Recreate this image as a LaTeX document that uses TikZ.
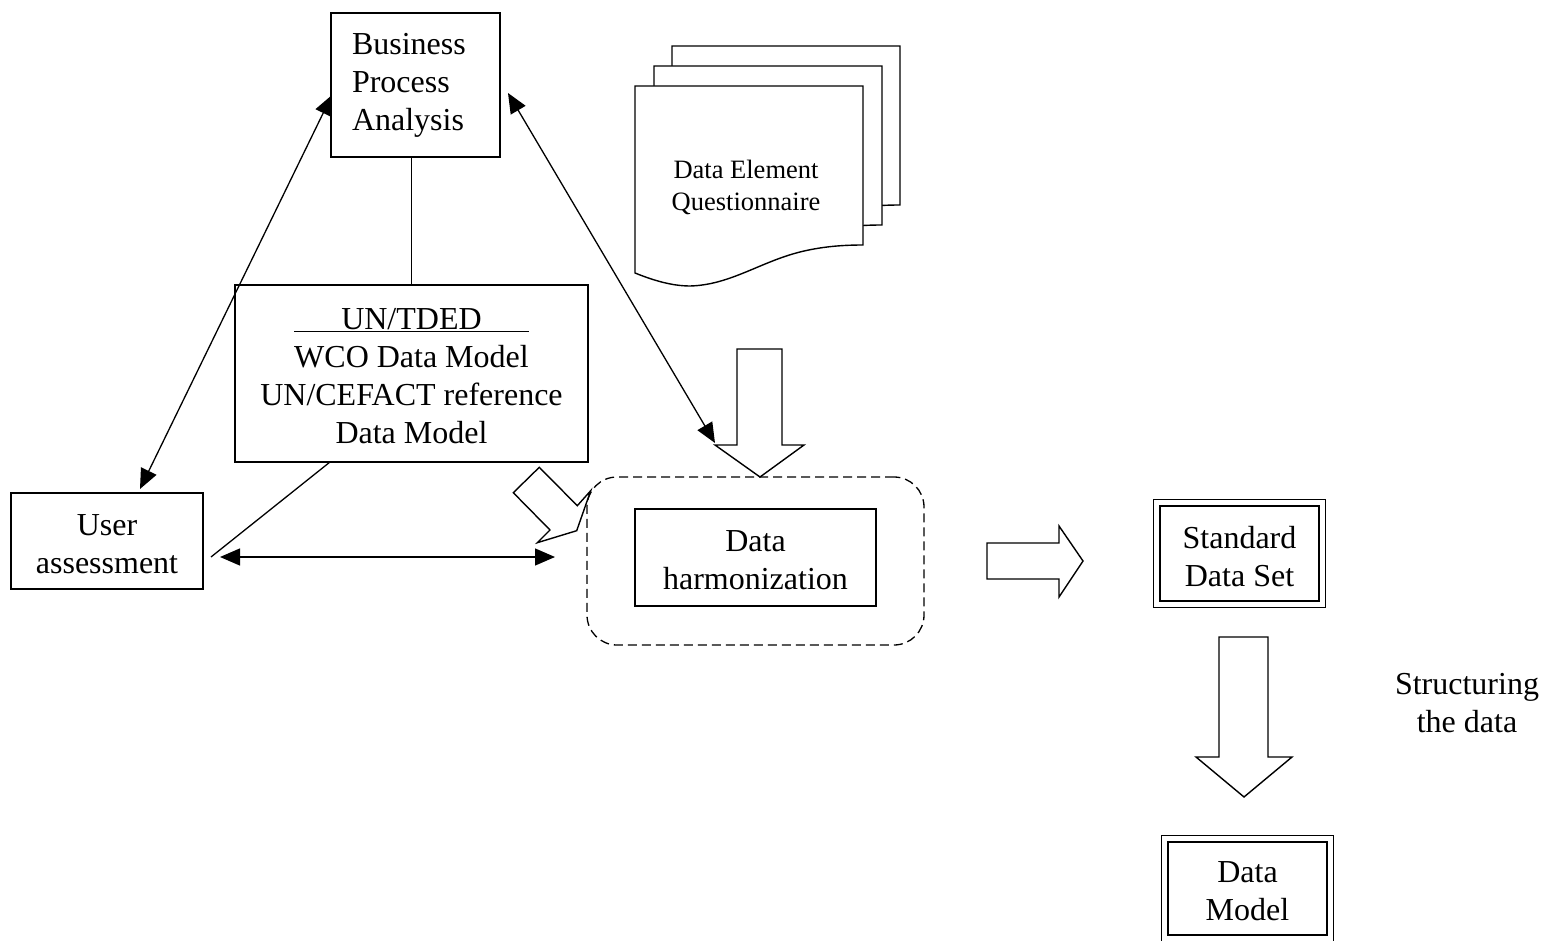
\documentclass[tikz,border=0pt]{standalone}
\usepackage{fontspec}
\setmainfont{Liberation Serif}
\usetikzlibrary{arrows.meta,calc}
\begin{document}
\begin{tikzpicture}[x=1pt,y=-1pt, line width=1.3pt,
  box/.style={draw, inner sep=0pt, line width=1.5pt},
  dblbox/.style={box, line width=2.4pt},
  plain/.style={inner sep=0pt, align=center, font=\fontsize{32}{38}\selectfont},
  txt/.style={label={[plain, yshift=-3pt]center:#1}},
  dual/.style={{Triangle[length=20pt,width=17pt]}-{Triangle[length=20pt,width=17pt]}},
  blockarrow/.style={draw, fill=white, line width=1.4pt, line join=miter},
  docpage/.style={draw, fill=white, line width=1.4pt}]
\useasboundingbox (0,0) rectangle (1543,941);

% Document stack (back to front)
\foreach \dx/\dy in {37/-40, 19/-20, 0/0}{
  \begin{scope}[shift={(\dx,\dy)}]
    \path[docpage] (635,86) -- (863,86) -- (863,245)
      .. controls (840,245) and (820,247) .. (800,252)
      .. controls (760,262) and (730,285) .. (690,286)
      .. controls (670,286) and (650,279) .. (635,273) -- cycle;
  \end{scope}
}
\node[plain, font=\fontsize{26.5}{32}\selectfont] (deq) at (746,187) {Data Element\\Questionnaire};

% Boxes
\node[box, align=left, font=\fontsize{32}{38}\selectfont, inner xsep=21pt, text width=127pt, minimum height=144pt] (bpa) at (415.5,85) {Business\\Process\\Analysis};
\node[box, minimum width=353pt, minimum height=177pt,
  txt={\underline{\makebox[235pt]{UN/TDED}}\\WCO Data Model\\UN/CEFACT reference\\Data Model}] (un) at (411.5,373.5) {};
\node[box, minimum width=192pt, minimum height=96pt, txt={User\\assessment}] (ua) at (107,541) {};
\node[box, line width=1.3pt, dashed, dash pattern=on 9pt off 5pt, rounded corners=30pt, minimum width=337pt, minimum height=168pt] (dhc) at (755.5,561) {};
\node[box, minimum width=241pt, minimum height=97pt, txt={Data\\harmonization}] (dh) at (755.5,557.5) {};
\node[dblbox, minimum width=159pt, minimum height=95pt, txt={Standard\\Data Set}] (sds) at (1239.5,553.5) {};
\draw[line width=1.2pt] ($(sds.north west)+(-5,-5)$) rectangle ($(sds.south east)+(5,5)$);
\node[dblbox, minimum width=159pt, minimum height=93pt, txt={Data\\Model}] (dm) at (1247.5,888.5) {};
\draw[line width=1.2pt] ($(dm.north west)+(-5,-5)$) rectangle ($(dm.south east)+(5,5)$);
\node[plain] (st) at (1467,703) {Structuring\\the data};

% Connectors
\coordinate (bpaL) at (332,95);
\coordinate (uaT) at (140,489);
\coordinate (bpaR) at (508,93);
\coordinate (dhA) at (715,443);
\coordinate (unB) at (330,462);
\coordinate (uaR) at (211,557);
\coordinate (haL) at (220,557);
\coordinate (haR) at (555,557);

\draw (un.north |- bpa.south) -- (un.north);
\draw[dual] (bpaL) -- (uaT);
\draw[dual] (bpaR) -- (dhA);
\draw (unB) -- (uaR);
\draw[dual] (haL) -- (haR);

% Block arrows
\draw[blockarrow] (737,349) -- (782,349) -- (782,445) -- (804,445) -- (760,477) -- (715,445) -- (737,445) -- cycle;
\draw[blockarrow] (539.3,467.3) -- (577.3,505.7) -- (590.7,490.7) -- (576.7,530.7) -- (537.3,542.7) -- (550,530) -- (513.3,492.7) -- cycle;
\draw[blockarrow] (987,543) -- (1059,543) -- (1059,526) -- (1083,561) -- (1059,597) -- (1059,579) -- (987,579) -- cycle;
\draw[blockarrow] (1219,637) -- (1268,637) -- (1268,757) -- (1292,757) -- (1244,797) -- (1196,757) -- (1219,757) -- cycle;
\end{tikzpicture}
\end{document}
